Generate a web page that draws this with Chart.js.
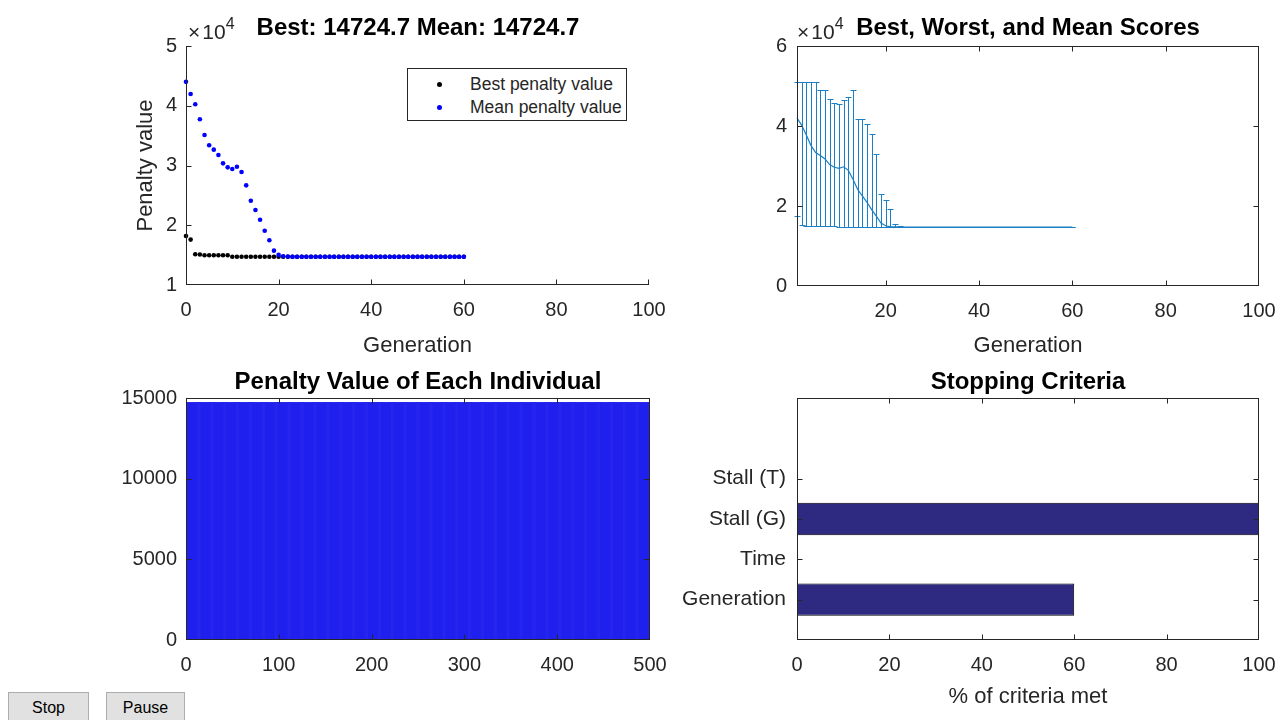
<!DOCTYPE html>
<html>
<head>
<meta charset="utf-8">
<script src="https://cdn.jsdelivr.net/npm/chart.js@4.4.1/dist/chart.umd.min.js"></script>
<style>
html,body{margin:0;padding:0;background:#fff;}
#fig{position:relative;width:1277px;height:720px;overflow:hidden;background:#fff;font-family:"Liberation Sans",Arial,Helvetica,sans-serif;}
#fig canvas{position:absolute;}
.ttl{position:absolute;font-weight:bold;font-size:24px;color:#000;white-space:nowrap;transform:translate(-50%,-50%);line-height:1;z-index:5;}
.exp{position:absolute;font-size:21px;color:#262626;white-space:nowrap;line-height:1;z-index:5;}
.exp .x{margin-right:2px;}
.exp sup{font-size:16px;vertical-align:0;position:relative;top:-10px;}
#legend{position:absolute;left:407px;top:68px;width:218px;height:51px;border:1px solid #262626;background:#fff;z-index:6;font-size:17.5px;color:#262626;}
.lrow{position:absolute;left:0;height:20px;line-height:20px;white-space:nowrap;}
.mk{position:absolute;top:7.5px;width:5px;height:5px;border-radius:50%;}
.lt{position:absolute;left:62px;top:0;}
.btn{position:absolute;height:30px;line-height:30px;border:1px solid #adadad;background:#e1e1e1;font-size:16px;color:#000;text-align:center;box-sizing:border-box;z-index:6;}
</style>
</head>
<body>
<div id="fig">
  <canvas id="c1" width="590" height="348" style="left:100px;top:22px;"></canvas>
  <canvas id="c2" width="571" height="348" style="left:720px;top:22px;"></canvas>
  <canvas id="c3" width="610" height="308" style="left:80px;top:374px;"></canvas>
  <canvas id="c4" width="631" height="346" style="left:660px;top:374px;"></canvas>

  <div class="ttl" style="left:418px;top:27px;">Best: 14724.7 Mean: 14724.7</div>
  <div class="ttl" style="left:1028px;top:27px;">Best, Worst, and Mean Scores</div>
  <div class="ttl" style="left:418px;top:381px;">Penalty Value of Each Individual</div>
  <div class="ttl" style="left:1028px;top:381px;">Stopping Criteria</div>

  <div class="exp" style="left:188px;top:21px;"><span class="x">×</span>10<sup>4</sup></div>
  <div class="exp" style="left:797px;top:21px;"><span class="x">×</span>10<sup>4</sup></div>

  <div id="legend">
    <div class="lrow" style="top:5px;width:218px;"><span class="mk" style="left:29px;background:#000;"></span><span class="lt">Best penalty value</span></div>
    <div class="lrow" style="top:28px;width:218px;"><span class="mk" style="left:29px;background:#0000ff;"></span><span class="lt">Mean penalty value</span></div>
  </div>

  <div class="btn" style="left:8px;top:692px;width:81px;">Stop</div>
  <div class="btn" style="left:106px;top:692px;width:79px;">Pause</div>
</div>

<script>
// ---------------- data ----------------
const generations = [0, 1, 2, 3, 4, 5, 6, 7, 8, 9, 10, 11, 12, 13, 14, 15, 16, 17, 18, 19, 20,
  21, 22, 23, 24, 25, 26, 27, 28, 29, 30, 31, 32, 33, 34, 35, 36, 37, 38, 39, 40,
  41, 42, 43, 44, 45, 46, 47, 48, 49, 50, 51, 52, 53, 54, 55, 56, 57, 58, 59, 60];

const bestPenalty = [18200, 17600, 15150, 15100, 14980, 14980, 14980, 14980, 14980, 14980,
  14740, 14740, 14740, 14740, 14740, 14740, 14740, 14740, 14740, 14740,
  14724.7, 14724.7, 14724.7, 14724.7, 14724.7, 14724.7, 14724.7, 14724.7, 14724.7, 14724.7,
  14724.7, 14724.7, 14724.7, 14724.7, 14724.7, 14724.7, 14724.7, 14724.7, 14724.7, 14724.7,
  14724.7, 14724.7, 14724.7, 14724.7, 14724.7, 14724.7, 14724.7, 14724.7, 14724.7, 14724.7,
  14724.7, 14724.7, 14724.7, 14724.7, 14724.7, 14724.7, 14724.7, 14724.7, 14724.7, 14724.7,
  14724.7];

const meanPenalty = [44000, 41970, 40240, 37730, 35100, 33380, 32650, 31760, 30360, 29690,
  29410, 29800, 28910, 26680, 24110, 22550, 20930, 19090, 17480, 15750,
  15050, 14800, 14760, 14740, 14730, 14724.7, 14724.7, 14724.7, 14724.7, 14724.7,
  14724.7, 14724.7, 14724.7, 14724.7, 14724.7, 14724.7, 14724.7, 14724.7, 14724.7, 14724.7,
  14724.7, 14724.7, 14724.7, 14724.7, 14724.7, 14724.7, 14724.7, 14724.7, 14724.7, 14724.7,
  14724.7, 14724.7, 14724.7, 14724.7, 14724.7, 14724.7, 14724.7, 14724.7, 14724.7, 14724.7,
  14724.7];

// worst score for generations 1..60
const worstScore = [51000, 51000, 51000, 51000, 51000, 49000, 49000, 46700, 45800, 45500,
  46500, 47300, 49000, 41800, 41800, 40400, 38000, 33000, 23000, 21500,
  19300, 15500, 14900, 14740, 14724.7, 14724.7, 14724.7, 14724.7, 14724.7, 14724.7,
  14724.7, 14724.7, 14724.7, 14724.7, 14724.7, 14724.7, 14724.7, 14724.7, 14724.7, 14724.7,
  14724.7, 14724.7, 14724.7, 14724.7, 14724.7, 14724.7, 14724.7, 14724.7, 14724.7, 14724.7,
  14724.7, 14724.7, 14724.7, 14724.7, 14724.7, 14724.7, 14724.7, 14724.7, 14724.7, 14724.7];

const scoreXTicks = [20, 40, 60, 80, 100];

// final population penalty values (500 individuals, 25 rows of 20)
const individualScores = [
  14724.7, 14724.7, 14724.7, 14724.7, 14724.7, 14724.7, 14724.7, 14724.7, 14724.7, 14724.7, 14724.7, 14724.7, 14724.7, 14724.7, 14724.7, 14724.7, 14724.7, 14724.7, 14724.7, 14724.7,
  14724.7, 14724.7, 14724.7, 14724.7, 14724.7, 14724.7, 14724.7, 14724.7, 14724.7, 14724.7, 14724.7, 14724.7, 14724.7, 14724.7, 14724.7, 14724.7, 14724.7, 14724.7, 14724.7, 14724.7,
  14724.7, 14724.7, 14724.7, 14724.7, 14724.7, 14724.7, 14724.7, 14724.7, 14724.7, 14724.7, 14724.7, 14724.7, 14724.7, 14724.7, 14724.7, 14724.7, 14724.7, 14724.7, 14724.7, 14724.7,
  14724.7, 14724.7, 14724.7, 14724.7, 14724.7, 14724.7, 14724.7, 14724.7, 14724.7, 14724.7, 14724.7, 14724.7, 14724.7, 14724.7, 14724.7, 14724.7, 14724.7, 14724.7, 14724.7, 14724.7,
  14724.7, 14724.7, 14724.7, 14724.7, 14724.7, 14724.7, 14724.7, 14724.7, 14724.7, 14724.7, 14724.7, 14724.7, 14724.7, 14724.7, 14724.7, 14724.7, 14724.7, 14724.7, 14724.7, 14724.7,
  14724.7, 14724.7, 14724.7, 14724.7, 14724.7, 14724.7, 14724.7, 14724.7, 14724.7, 14724.7, 14724.7, 14724.7, 14724.7, 14724.7, 14724.7, 14724.7, 14724.7, 14724.7, 14724.7, 14724.7,
  14724.7, 14724.7, 14724.7, 14724.7, 14724.7, 14724.7, 14724.7, 14724.7, 14724.7, 14724.7, 14724.7, 14724.7, 14724.7, 14724.7, 14724.7, 14724.7, 14724.7, 14724.7, 14724.7, 14724.7,
  14724.7, 14724.7, 14724.7, 14724.7, 14724.7, 14724.7, 14724.7, 14724.7, 14724.7, 14724.7, 14724.7, 14724.7, 14724.7, 14724.7, 14724.7, 14724.7, 14724.7, 14724.7, 14724.7, 14724.7,
  14724.7, 14724.7, 14724.7, 14724.7, 14724.7, 14724.7, 14724.7, 14724.7, 14724.7, 14724.7, 14724.7, 14724.7, 14724.7, 14724.7, 14724.7, 14724.7, 14724.7, 14724.7, 14724.7, 14724.7,
  14724.7, 14724.7, 14724.7, 14724.7, 14724.7, 14724.7, 14724.7, 14724.7, 14724.7, 14724.7, 14724.7, 14724.7, 14724.7, 14724.7, 14724.7, 14724.7, 14724.7, 14724.7, 14724.7, 14724.7,
  14724.7, 14724.7, 14724.7, 14724.7, 14724.7, 14724.7, 14724.7, 14724.7, 14724.7, 14724.7, 14724.7, 14724.7, 14724.7, 14724.7, 14724.7, 14724.7, 14724.7, 14724.7, 14724.7, 14724.7,
  14724.7, 14724.7, 14724.7, 14724.7, 14724.7, 14724.7, 14724.7, 14724.7, 14724.7, 14724.7, 14724.7, 14724.7, 14724.7, 14724.7, 14724.7, 14724.7, 14724.7, 14724.7, 14724.7, 14724.7,
  14724.7, 14724.7, 14724.7, 14724.7, 14724.7, 14724.7, 14724.7, 14724.7, 14724.7, 14724.7, 14724.7, 14724.7, 14724.7, 14724.7, 14724.7, 14724.7, 14724.7, 14724.7, 14724.7, 14724.7,
  14724.7, 14724.7, 14724.7, 14724.7, 14724.7, 14724.7, 14724.7, 14724.7, 14724.7, 14724.7, 14724.7, 14724.7, 14724.7, 14724.7, 14724.7, 14724.7, 14724.7, 14724.7, 14724.7, 14724.7,
  14724.7, 14724.7, 14724.7, 14724.7, 14724.7, 14724.7, 14724.7, 14724.7, 14724.7, 14724.7, 14724.7, 14724.7, 14724.7, 14724.7, 14724.7, 14724.7, 14724.7, 14724.7, 14724.7, 14724.7,
  14724.7, 14724.7, 14724.7, 14724.7, 14724.7, 14724.7, 14724.7, 14724.7, 14724.7, 14724.7, 14724.7, 14724.7, 14724.7, 14724.7, 14724.7, 14724.7, 14724.7, 14724.7, 14724.7, 14724.7,
  14724.7, 14724.7, 14724.7, 14724.7, 14724.7, 14724.7, 14724.7, 14724.7, 14724.7, 14724.7, 14724.7, 14724.7, 14724.7, 14724.7, 14724.7, 14724.7, 14724.7, 14724.7, 14724.7, 14724.7,
  14724.7, 14724.7, 14724.7, 14724.7, 14724.7, 14724.7, 14724.7, 14724.7, 14724.7, 14724.7, 14724.7, 14724.7, 14724.7, 14724.7, 14724.7, 14724.7, 14724.7, 14724.7, 14724.7, 14724.7,
  14724.7, 14724.7, 14724.7, 14724.7, 14724.7, 14724.7, 14724.7, 14724.7, 14724.7, 14724.7, 14724.7, 14724.7, 14724.7, 14724.7, 14724.7, 14724.7, 14724.7, 14724.7, 14724.7, 14724.7,
  14724.7, 14724.7, 14724.7, 14724.7, 14724.7, 14724.7, 14724.7, 14724.7, 14724.7, 14724.7, 14724.7, 14724.7, 14724.7, 14724.7, 14724.7, 14724.7, 14724.7, 14724.7, 14724.7, 14724.7,
  14724.7, 14724.7, 14724.7, 14724.7, 14724.7, 14724.7, 14724.7, 14724.7, 14724.7, 14724.7, 14724.7, 14724.7, 14724.7, 14724.7, 14724.7, 14724.7, 14724.7, 14724.7, 14724.7, 14724.7,
  14724.7, 14724.7, 14724.7, 14724.7, 14724.7, 14724.7, 14724.7, 14724.7, 14724.7, 14724.7, 14724.7, 14724.7, 14724.7, 14724.7, 14724.7, 14724.7, 14724.7, 14724.7, 14724.7, 14724.7,
  14724.7, 14724.7, 14724.7, 14724.7, 14724.7, 14724.7, 14724.7, 14724.7, 14724.7, 14724.7, 14724.7, 14724.7, 14724.7, 14724.7, 14724.7, 14724.7, 14724.7, 14724.7, 14724.7, 14724.7,
  14724.7, 14724.7, 14724.7, 14724.7, 14724.7, 14724.7, 14724.7, 14724.7, 14724.7, 14724.7, 14724.7, 14724.7, 14724.7, 14724.7, 14724.7, 14724.7, 14724.7, 14724.7, 14724.7, 14724.7,
  14724.7, 14724.7, 14724.7, 14724.7, 14724.7, 14724.7, 14724.7, 14724.7, 14724.7, 14724.7, 14724.7, 14724.7, 14724.7, 14724.7, 14724.7, 14724.7, 14724.7, 14724.7, 14724.7, 14724.7,
  14724.7, 14724.7, 14724.7, 14724.7, 14724.7, 14724.7, 14724.7, 14724.7, 14724.7, 14724.7, 14724.7, 14724.7, 14724.7, 14724.7, 14724.7, 14724.7, 14724.7, 14724.7, 14724.7, 14724.7
];

const stopCategories = ['Generation', 'Time', 'Stall (G)', 'Stall (T)'];
const stopPercent = [60, 0, 100, 0];

// ---------------- derived views ----------------
const scoreGenerations = generations.slice(1);
const bestScore = bestPenalty.slice(1);
const meanScore = meanPenalty.slice(1);
const individualIds = individualScores.map((_, i) => i + 1);
const stopPositions = stopCategories.map((_, i) => i + 1);

// ---------------- styling helpers ----------------
const INK = '#262626';
const FONT = '"Liberation Sans", Arial, Helvetica, sans-serif';
Chart.defaults.font.family = FONT;
Chart.defaults.color = INK;
const TICK_FONT = { size: 20, family: FONT };
const LABEL_FONT = { size: 22, family: FONT };

// MATLAB-style axes: axis lines + inward tick marks
const matlabAxes = {
  id: 'matlabAxes',
  defaults: { box: true, len: 5, color: INK },
  afterDatasetsDraw(chart, args, opts) {
    const { ctx, chartArea: a } = chart;
    const xs = chart.scales.x, ys = chart.scales.y;
    const L = Math.round(a.left) + 0.5, R = Math.round(a.right) - 0.5;
    const T = Math.round(a.top) + 0.5, B = Math.round(a.bottom) - 0.5;
    const len = opts.len;
    ctx.save();
    ctx.strokeStyle = opts.color;
    ctx.lineWidth = 1;
    ctx.beginPath();
    ctx.moveTo(L, T - 0.5); ctx.lineTo(L, B + 0.5);
    ctx.moveTo(L - 0.5, B); ctx.lineTo(R + 0.5, B);
    if (opts.box) {
      ctx.moveTo(L - 0.5, T); ctx.lineTo(R + 0.5, T);
      ctx.moveTo(R, T - 0.5); ctx.lineTo(R, B + 0.5);
    }
    xs.ticks.forEach(t => {
      let p = Math.round(xs.getPixelForValue(t.value)) + 0.5;
      p = Math.min(Math.max(p, L), R);
      ctx.moveTo(p, B); ctx.lineTo(p, B - len);
      if (opts.box) { ctx.moveTo(p, T); ctx.lineTo(p, T + len); }
    });
    ys.ticks.forEach(t => {
      let p = Math.round(ys.getPixelForValue(t.value)) + 0.5;
      p = Math.min(Math.max(p, T), B);
      ctx.moveTo(L, p); ctx.lineTo(L + len, p);
      if (opts.box) { ctx.moveTo(R, p); ctx.lineTo(R - len, p); }
    });
    ctx.stroke();
    ctx.restore();
  }
};
Chart.register(matlabAxes);

// error bars (best .. worst) for the scores plot
const errorBars = {
  id: 'errorBars',
  beforeDatasetsDraw(chart) {
    const { ctx } = chart;
    const xs = chart.scales.x, ys = chart.scales.y;
    const cap = 3;
    ctx.save();
    ctx.strokeStyle = '#1a7fc4';
    ctx.lineWidth = 1;
    ctx.beginPath();
    scoreGenerations.forEach((g, i) => {
      const px = Math.round(xs.getPixelForValue(g)) + 0.5;
      const lo = Math.round(ys.getPixelForValue(bestScore[i])) + 0.5;
      const hi = Math.round(ys.getPixelForValue(worstScore[i])) + 0.5;
      ctx.moveTo(px, lo); ctx.lineTo(px, hi);
      ctx.moveTo(px - cap, hi); ctx.lineTo(px + cap, hi);
      ctx.moveTo(px - cap, lo); ctx.lineTo(px + cap, lo);
    });
    ctx.stroke();
    ctx.restore();
  }
};

function xScale(o) {
  const s = {
    type: 'linear', position: 'bottom', min: o.min, max: o.max, offset: false,
    grid: { display: false, drawTicks: false, offset: false },
    border: { display: false },
    ticks: { stepSize: o.step, font: TICK_FONT, color: INK, padding: 13, maxRotation: 0, minRotation: 0, autoSkip: false,
             callback: o.cb || (v => String(v)) },
    title: o.title ? { display: true, text: o.title, font: LABEL_FONT, color: INK, padding: { top: 0, bottom: o.titlePad } }
                   : { display: false },
    afterFit: sc => { sc.height = o.h; }
  };
  if (o.ticks) s.afterBuildTicks = sc => { sc.ticks = o.ticks.map(v => ({ value: v })); };
  return s;
}
function yScale(o) {
  const s = {
    type: 'linear', position: 'left', min: o.min, max: o.max, offset: false,
    grid: { display: false, drawTicks: false, offset: false },
    border: { display: false },
    ticks: { stepSize: o.step, font: o.font || TICK_FONT, color: INK, padding: o.pad || 9, autoSkip: false,
             callback: o.cb || (v => String(v)) },
    title: o.title ? { display: true, text: o.title, font: LABEL_FONT, color: INK, padding: { top: o.titlePad, bottom: 0 } }
                   : { display: false },
    afterFit: sc => { sc.width = o.w; }
  };
  if (o.ticks) s.afterBuildTicks = sc => { sc.ticks = o.ticks.map(v => ({ value: v })); };
  return s;
}
function baseOptions(pad, box) {
  return {
    responsive: false, animation: false, events: [],
    layout: { padding: pad },
    plugins: { legend: { display: false }, tooltip: { enabled: false }, matlabAxes: { box: box } }
  };
}

// ---------------- 1: best / mean penalty ----------------
new Chart(document.getElementById('c1'), {
  type: 'scatter',
  data: {
    datasets: [
      { label: 'Mean penalty value', data: generations.map((g, i) => ({ x: g, y: meanPenalty[i] })),
        pointRadius: 2.3, pointBackgroundColor: '#0000ff', pointBorderWidth: 0, order: 0, clip: false },
      { label: 'Best penalty value', data: generations.map((g, i) => ({ x: g, y: bestPenalty[i] })),
        pointRadius: 2.3, pointBackgroundColor: '#000000', pointBorderWidth: 0, order: 1, clip: false }
    ]
  },
  options: Object.assign(baseOptions({ left: 0, top: 24, right: 41, bottom: 0 }, false), {
    scales: {
      x: xScale({ min: 0, max: 100, step: 20, h: 85, title: 'Generation', titlePad: 10.8 }),
      y: yScale({ min: 10000, max: 50000, step: 10000, w: 86, title: 'Penalty value', titlePad: 32.8, cb: v => String(v / 10000) })
    }
  })
});

// ---------------- 2: best / worst / mean scores ----------------
new Chart(document.getElementById('c2'), {
  type: 'scatter',
  data: {
    datasets: [
      { label: 'Mean', data: scoreGenerations.map((g, i) => ({ x: g, y: meanScore[i] })),
        showLine: true, pointRadius: 0, borderColor: '#1a7fc4', borderWidth: 1.2, clip: false }
    ]
  },
  options: Object.assign(baseOptions({ left: 0, top: 24, right: 32, bottom: 0 }, true), {
    scales: {
      x: xScale({ min: 1, max: 100, ticks: scoreXTicks, h: 84, title: 'Generation', titlePad: 10.8 }),
      y: yScale({ min: 0, max: 60000, step: 20000, w: 77, pad: 10, cb: v => String(v / 10000) })
    }
  }),
  plugins: [errorBars]
});

// ---------------- 3: penalty value of each individual ----------------
new Chart(document.getElementById('c3'), {
  type: 'bar',
  data: {
    datasets: [
      { data: individualScores.map((v, i) => ({ x: individualIds[i], y: v })),
        backgroundColor: '#2020ee', borderWidth: 0, barPercentage: 1, categoryPercentage: 1 }
    ]
  },
  options: Object.assign(baseOptions({ left: 0, top: 24, right: 40, bottom: 0 }, true), {
    scales: {
      x: xScale({ min: 0, max: 500, step: 100, h: 42 }),
      y: yScale({ min: 0, max: 15000, step: 5000, w: 106 })
    }
  })
});

// ---------------- 4: stopping criteria ----------------
new Chart(document.getElementById('c4'), {
  type: 'bar',
  data: {
    datasets: [
      { data: stopCategories.map((c, i) => ({ x: stopPercent[i], y: stopPositions[i] })),
        backgroundColor: '#2e2a82', borderColor: '#000000',
        borderWidth: ctx => (ctx.raw && ctx.raw.x > 0 ? 1 : 0), borderSkipped: false,
        barPercentage: 0.8, categoryPercentage: 1 }
    ]
  },
  options: Object.assign(baseOptions({ left: 0, top: 24, right: 32, bottom: 0 }, true), {
    indexAxis: 'y',
    scales: {
      x: xScale({ min: 0, max: 100, step: 20, h: 80, title: '% of criteria met', titlePad: 9.8 }),
      y: yScale({ min: 0, max: 6, ticks: stopPositions, w: 137, pad: 11, font: { size: 21, family: FONT },
                  cb: v => { const k = stopPositions.indexOf(v); return k >= 0 ? stopCategories[k] : ''; } })
    }
  })
});
</script>
</body>
</html>
